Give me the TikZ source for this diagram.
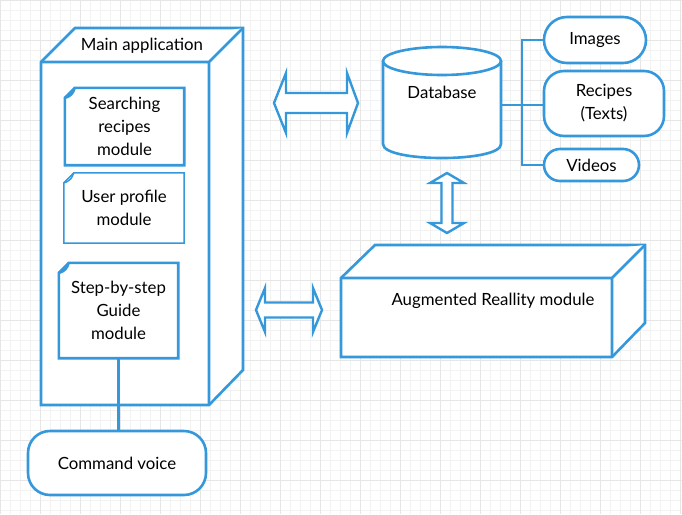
\documentclass[tikz,border=0pt]{standalone}
\usepackage{fontspec}
\setmainfont{Lato}
\usepackage{tikz}
\usetikzlibrary{positioning}
\definecolor{diagblue}{HTML}{3498DB}
\definecolor{gridminor}{HTML}{F2F2F2}
\definecolor{gridmajor}{HTML}{E6E6E6}
\tikzset{
	blueline/.style={draw=diagblue, line width=2.6pt, fill=white, line join=miter},
	thinline/.style={draw=diagblue, line width=1.5pt},
	conn/.style={draw=diagblue, line width=2.2pt},
	lbl/.style={font=\fontsize{16.8}{23}\selectfont, align=center, inner sep=0pt},
	pill/.style={blueline, lbl, rounded corners=#1}
}

\begin{document}
\begin{tikzpicture}[x=1pt, y=-1pt]
	\useasboundingbox (0,0) rectangle (682,514);
	\fill[white] (0,0) rectangle (682,514);
	\draw[gridminor, line width=0.5pt] (0,0) grid[step=10pt] (682,514);
	\draw[gridmajor, line width=0.6pt] (0,0) grid[step=40pt] (682,514);

	% main application block
	\draw[blueline] (41,62) -- (75,28) -- (243,28) -- (243,370) -- (209,405) -- (41,405) -- cycle;
	\draw[blueline] (41,62) -- (209,62) -- (243,28) (209,62) -- (209,405);
	\node[lbl] (mainapp) at (142,46) {Main application};

	% modules inside
	\node[lbl, minimum width=119pt, minimum height=77pt] (search) at (124.5,126.5) {Searching\\recipes\\module};
	\node[lbl, minimum width=120pt, minimum height=70pt] (user) at (124,208) {User profile\\module};
	\node[lbl, minimum width=119pt, minimum height=95pt] (step) at (118.5,310.5) {Step-by-step\\Guide\\module};
	\foreach \n/\w in {search/blueline, user/thinline, step/blueline}{
		\draw[\w, fill=none] ([yshift=-10pt]\n.north west) -- ([xshift=10pt]\n.north west) -- (\n.north east) -- (\n.south east) -- (\n.south west) -- cycle;
		\draw[\w, fill=none] ([yshift=-10pt]\n.north west) .. controls ([xshift=7pt,yshift=-8pt]\n.north west) and ([xshift=8pt,yshift=-5pt]\n.north west) .. ([xshift=10pt]\n.north west);
	}

	% command voice
	\node[pill=22pt, minimum width=178pt, minimum height=64pt] (cmd) at (117,463) {Command voice};
	\draw[conn] (step.south) -- (step.south |- cmd.north);

	% database
	\draw[blueline] (383,61) -- (383,144) .. controls (383,162.7) and (501,162.7) .. (501,144) -- (501,61);
	\draw[blueline] (442,61) ellipse [x radius=59pt, y radius=14pt];
	\node[lbl] (db) at (442,92) {Database};
	\coordinate (dbeast) at (501,105);

	% stored media
	\node[pill=23pt, minimum width=102pt, minimum height=46pt] (images) at (595,40) {Images};
	\node[pill=20pt, minimum width=120pt, minimum height=65pt] (recipes) at (604,103.5) {Recipes\\(Texts)};
	\node[pill=16pt, minimum width=95pt, minimum height=32pt] (videos) at (591.5,165) {Videos};
	\draw[conn] (images.west) -- ++(-21,0) coordinate (bustop) |- (videos.west);
	\draw[conn] (dbeast) -- (dbeast -| recipes.west);

	% augmented reality block
	\draw[blueline] (341,278) -- (375,245) -- (645,245) -- (645,323) -- (612,357) -- (341,357) -- cycle;
	\draw[blueline] (341,278) -- (612,278) -- (645,245) (612,278) -- (612,357);
	\node[lbl] (ar) at (493,301) {Augmented Reallity module};

	% double arrows
	\draw[blueline, line width=2.4pt] (274,103) -- (286,73) -- (286,93) -- (347,93) -- (347,73) -- (358,103) -- (347,133) -- (347,113) -- (286,113) -- (286,133) -- cycle;
	\draw[blueline, line width=2.4pt] (447,173) -- (464,183) -- (452.5,183) -- (452.5,223) -- (464,223) -- (447,233) -- (430,223) -- (441.5,223) -- (441.5,183) -- (430,183) -- cycle;
	\draw[blueline, line width=2.4pt] (256,310) -- (265,288) -- (265,302.5) -- (313,302.5) -- (313,288) -- (322,310) -- (313,332) -- (313,317.5) -- (265,317.5) -- (265,332) -- cycle;
\end{tikzpicture}
\end{document}
